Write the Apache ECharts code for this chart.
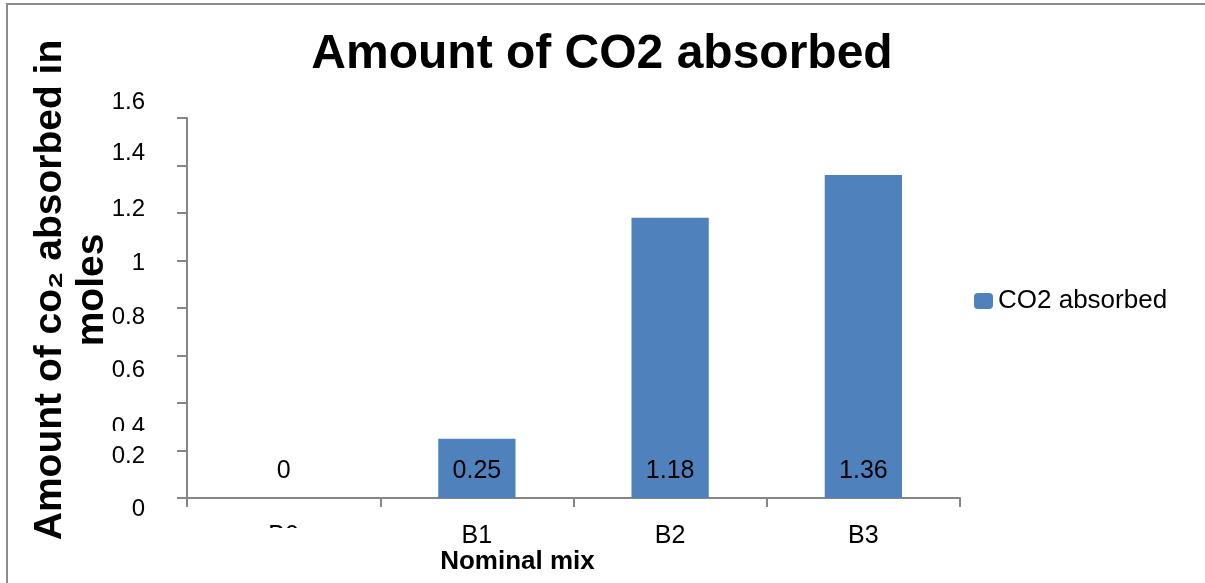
<!DOCTYPE html>
<html><head><meta charset="utf-8">
<script src="https://cdn.jsdelivr.net/npm/echarts@6/dist/echarts.min.js"></script>
<style>html,body{margin:0;padding:0;background:#fff}#c{width:1205px;height:583px}</style>
</head><body><div id="c"></div>
<script>
const categories = ['B0', 'B1', 'B2', 'B3'];
const co2Absorbed = [0, 0.25, 1.18, 1.36];
const seriesName = 'CO2 absorbed';
const chartTitle = 'Amount of CO2 absorbed';
const yTitle = 'Amount of co\u2082 absorbed in\nmoles';
const xTitle = 'Nominal mix';
const yTickLabels = ['0', '0.2', '0.4', '0.6', '0.8', '1', '1.2', '1.4', '1.6'];

// vertical drift of each y tick label in the original image (style only)
const yLabelShift = [11, 6, 24, 15, 9, 3, -4, -12, -16];
const rich = {};
yLabelShift.forEach((d, i) => {
  rich['s' + i] = {
    fontFamily: '"Liberation Sans", Arial, sans-serif', fontSize: 24, color: '#000',
    padding: d >= 0 ? [2 * d, 0, 0, 0] : [0, 0, -2 * d, 0]
  };
});

const font = '"Liberation Sans", Arial, sans-serif';
const chart = echarts.init(document.getElementById('c'), null, {renderer: 'canvas'});
chart.setOption({
  animation: false,
  backgroundColor: '#fff',
  title: {
    text: chartTitle, left: 597, top: 26, textAlign: 'center',
    textStyle: {fontFamily: font, fontWeight: 'bold', fontSize: 48, color: '#000'}
  },
  legend: {
    data: [seriesName], left: 969, top: 283, orient: 'vertical',
    itemWidth: 19, itemHeight: 16, itemGap: 8,
    textStyle: {fontFamily: font, fontSize: 26, color: '#000'}
  },
  grid: {left: 187, right: 245, top: 118, bottom: 85, containLabel: false, outerBoundsMode: 'none'},
  xAxis: {
    type: 'category', data: categories,
    axisLine: {lineStyle: {color: '#868686', width: 2}},
    axisTick: {show: true, length: 9, alignWithLabel: false, lineStyle: {color: '#868686', width: 2}},
    axisLabel: {fontFamily: font, fontSize: 25, color: '#000', margin: 26},
    name: xTitle, nameLocation: 'middle', nameGap: 51, nameMoveOverlap: false,
    nameTextStyle: {fontFamily: font, fontSize: 26, fontWeight: 'bold', color: '#000', padding: [0, 112, 0, 0]}
  },
  yAxis: {
    type: 'value', min: 0, max: 1.6, interval: 0.2,
    splitLine: {show: false},
    axisLine: {show: true, lineStyle: {color: '#868686', width: 2}},
    axisTick: {show: true, length: 10, lineStyle: {color: '#868686', width: 2}},
    axisLabel: {fontFamily: font, fontSize: 24, color: '#000', margin: 42,
      formatter: (v) => {
        const i = Math.round(v / 0.2);
        return '{s' + i + '|' + yTickLabels[i] + '}';
      },
      rich: rich},
    name: yTitle, nameLocation: 'middle', nameRotate: 90, nameGap: 74, nameMoveOverlap: false,
    nameTextStyle: {fontFamily: font, fontSize: 39, fontWeight: 'bold', color: '#000', lineHeight: 42, padding: [0, 0, 0, 36]}
  },
  series: [{
    name: seriesName, type: 'bar', data: co2Absorbed, barWidth: '40%',
    itemStyle: {color: '#4F81BD'},
    label: {show: true, position: 'insideBottom', distance: 14,
      fontFamily: font, fontSize: 25, color: '#000'}
  }],
  graphic: [
    {type: 'rect', shape: {x: 7, y: 4, width: 1300, height: 700},
     style: {fill: 'none', stroke: '#8c8c8c', lineWidth: 2}, silent: true},
    // clipped label areas in the original
    {type: 'rect', shape: {x: 95, y: 431, width: 70, height: 12}, style: {fill: '#fff'}, silent: true, z: 100},
    {type: 'rect', shape: {x: 250, y: 528, width: 100, height: 24}, style: {fill: '#fff'}, silent: true, z: 100}
  ]
});
</script></body></html>
